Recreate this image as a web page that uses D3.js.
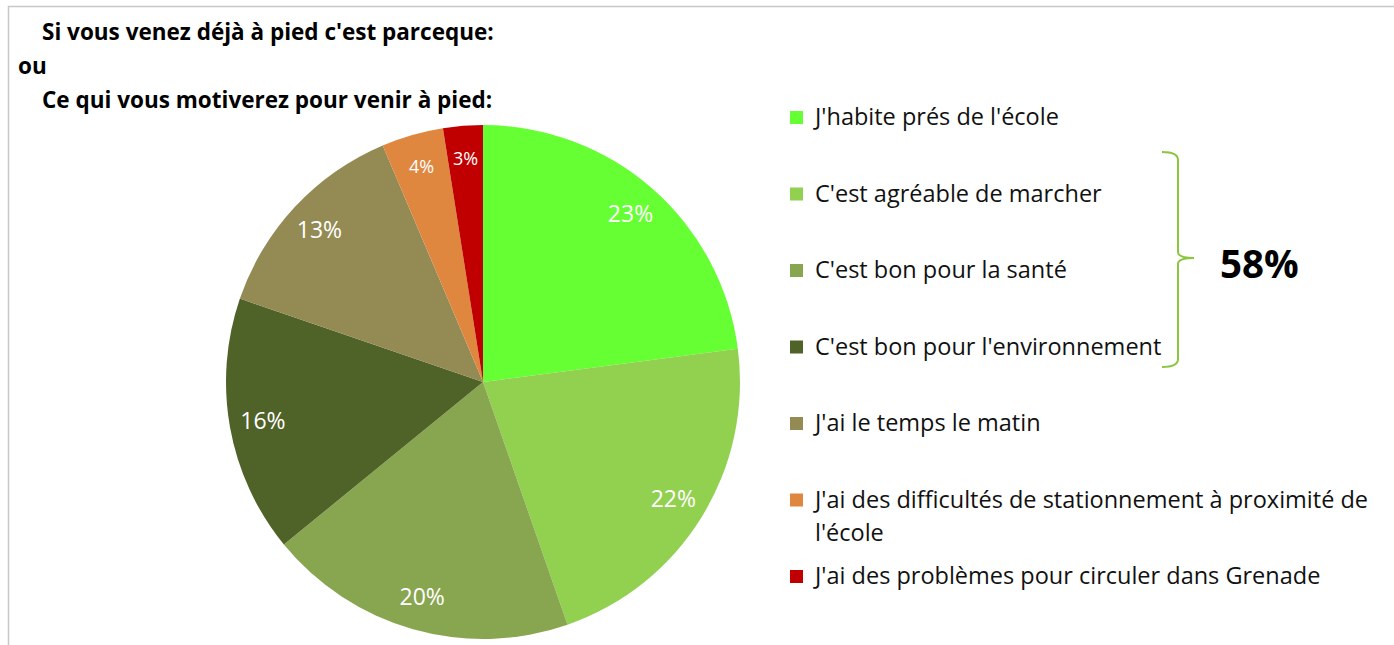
<!DOCTYPE html>
<html>
<head>
<meta charset="utf-8">
<script src="https://cdn.jsdelivr.net/npm/d3@7"></script>
<style>
  body { margin: 0; background: #fff; }
  svg text { font-family: "Open Sans", Lato, sans-serif; }
</style>
</head>
<body>
<svg id="chart" width="1394" height="645"></svg>
<script>
// Données
const categories = [
  "J'habite prés de l'école",
  "C'est agréable de marcher",
  "C'est bon pour la santé",
  "C'est bon pour l'environnement",
  "J'ai le temps le matin",
  "J'ai des difficultés de stationnement à proximité de|l'école",
  "J'ai des problèmes pour circuler dans Grenade"
];
const values = [23, 21.8, 19.5, 16.2, 13.4, 3.9, 2.5];
const colors = ["#66ff33", "#92d050", "#88a550", "#4f6228", "#948a54", "#e0873f", "#c00000"];
const titleLines = ["Si vous venez déjà à pied c'est parceque:", "ou", "Ce qui vous motiverez pour venir à pied:"];
const groupLabel = "58%";

const svg = d3.select('#chart');

// cadre gris clair
svg.append('path')
  .attr('d', 'M8.5,645 V6.5 H1394')
  .attr('fill', 'none')
  .attr('stroke', '#c8c8c8')
  .attr('stroke-width', 1.5);

// titre
const titleX = [42, 18, 42];
const titleY = [40, 74, 108];
svg.selectAll('.title')
  .data(titleLines)
  .enter()
  .append('text')
  .attr('class', 'title')
  .attr('x', (d, i) => titleX[i])
  .attr('y', (d, i) => titleY[i])
  .attr('font-size', 22.5)
  .attr('font-weight', 'bold')
  .attr('fill', '#000')
  .text(d => d);

// camembert
const cx = 483, cy = 382, radius = 257;
const pie = d3.pie().sort(null).value(d => d);
const arc = d3.arc().innerRadius(0).outerRadius(radius);
const labelArc = d3.arc().innerRadius(radius * 0.87).outerRadius(radius * 0.87);

const g = svg.append('g').attr('transform', `translate(${cx},${cy})`);
const arcs = pie(values);

g.selectAll('path')
  .data(arcs)
  .enter()
  .append('path')
  .attr('d', arc)
  .attr('fill', (d, i) => colors[i]);

g.selectAll('.lbl')
  .data(arcs)
  .enter()
  .append('text')
  .attr('class', 'lbl')
  .attr('transform', d => `translate(${labelArc.centroid(d)})`)
  .attr('text-anchor', 'middle')
  .attr('dy', '0.35em')
  .attr('font-size', d => (d.value < 5 ? 18 : 23))
  .attr('fill', '#fff')
  .text(d => Math.round(d.value) + '%');

// légende
const legendY = d3.scalePoint().domain(d3.range(categories.length)).range([117, 576]);
const legend = svg.append('g');
const items = legend.selectAll('.item')
  .data(categories)
  .enter()
  .append('g')
  .attr('class', 'item')
  .attr('transform', (d, i) => `translate(790,${legendY(i)})`);

items.append('rect')
  .attr('x', 0)
  .attr('y', -6)
  .attr('width', 13)
  .attr('height', 13)
  .attr('fill', (d, i) => colors[i]);

items.each(function (d) {
  const t = d3.select(this).append('text')
    .attr('x', 25)
    .attr('y', 8)
    .attr('font-size', 23.5)
    .attr('fill', '#111');
  d.split('|').forEach((line, j) => {
    t.append('tspan').attr('x', 25).attr('dy', j === 0 ? 0 : 33).text(line);
  });
});

// accolade pour les trois catégories "santé / agréable / environnement"
const yTop = 152, yBot = 367, yMid = 258, bx = 1178;
svg.append('path')
  .attr('d', `M1162,${yTop} Q${bx},${yTop} ${bx},${yTop + 8} V${yMid - 6} Q${bx},${yMid} 1194,${yMid}`
    + ` Q${bx},${yMid} ${bx},${yMid + 6} V${yBot - 8} Q${bx},${yBot} 1162,${yBot}`)
  .attr('fill', 'none')
  .attr('stroke', '#8cc63f')
  .attr('stroke-width', 2);

svg.append('text')
  .attr('x', 1220)
  .attr('y', 278)
  .attr('font-size', 38.5)
  .attr('font-weight', 'bold')
  .attr('fill', '#000')
  .text(groupLabel);
</script>
</body>
</html>
